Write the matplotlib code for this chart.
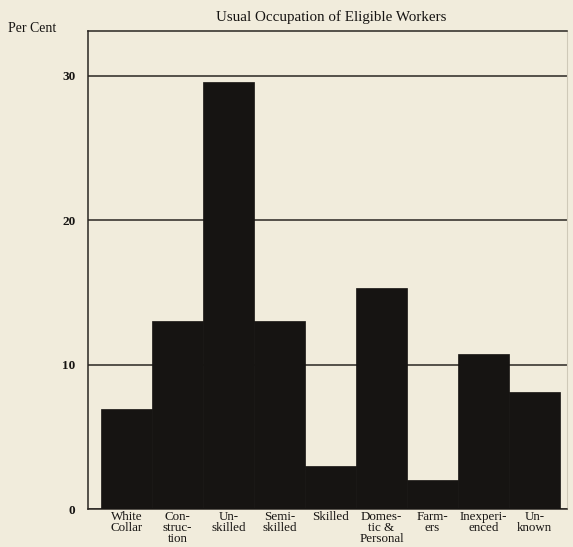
import matplotlib.pyplot as plt

categories = ["White\nCollar", "Con-\nstruc-\ntion", "Un-\nskilled", "Semi-\nskilled",
              "Skilled", "Domes-\ntic &\nPersonal", "Farm-\ners", "Inexperi-\nenced", "Un-\nknown"]
per_cent = [6.9, 13.0, 29.6, 13.0, 3.0, 15.3, 2.0, 10.7, 8.1]
y_ticks = [0, 10, 20, 30]

paper = "#f1ecdc"
ink = "#161412"

plt.rcParams['font.family'] = ['Liberation Serif', 'DejaVu Serif']

fig = plt.figure(figsize=(5.73, 5.47), dpi=100, facecolor=paper)
ax = fig.add_axes([88 / 573, 1 - 509 / 547, (567 - 88) / 573, (509 - 31) / 547])
ax.set_facecolor(paper)

x = range(len(per_cent))
ax.bar(x, per_cent, width=1.0, color=ink, edgecolor=ink, linewidth=0.5, zorder=3)

ax.set_xlim(-0.755, 8.637)
ax.set_ylim(0, 33.1)
ax.set_yticks(y_ticks)
ax.set_yticklabels([str(t) for t in y_ticks], fontsize=9.5, fontweight='bold', color=ink)
ax.tick_params(axis='y', length=0, pad=9)
ax.set_xticks(list(x))
ax.set_xticklabels(categories, fontsize=9.4, color=ink, linespacing=0.86, va='top')
ax.tick_params(axis='x', length=0, pad=1.5)

ax.grid(axis='y', color="#2a2622", linewidth=1.1, zorder=1)
for side in ['left', 'bottom', 'top']:
    ax.spines[side].set_color("#2a2622")
    ax.spines[side].set_linewidth(1.1)
ax.spines['right'].set_color("#cfc9b8")
ax.spines['right'].set_linewidth(0.8)

fig.text(331 / 573, 1 - 17 / 547, "Usual Occupation of Eligible Workers",
         ha='center', va='center', fontsize=10.8, color=ink)
fig.text(8 / 573, 1 - 29 / 547, "Per Cent", ha='left', va='center', fontsize=10, color=ink)

fig.savefig("out.png", dpi=100, facecolor=paper)
plt.close(fig)
